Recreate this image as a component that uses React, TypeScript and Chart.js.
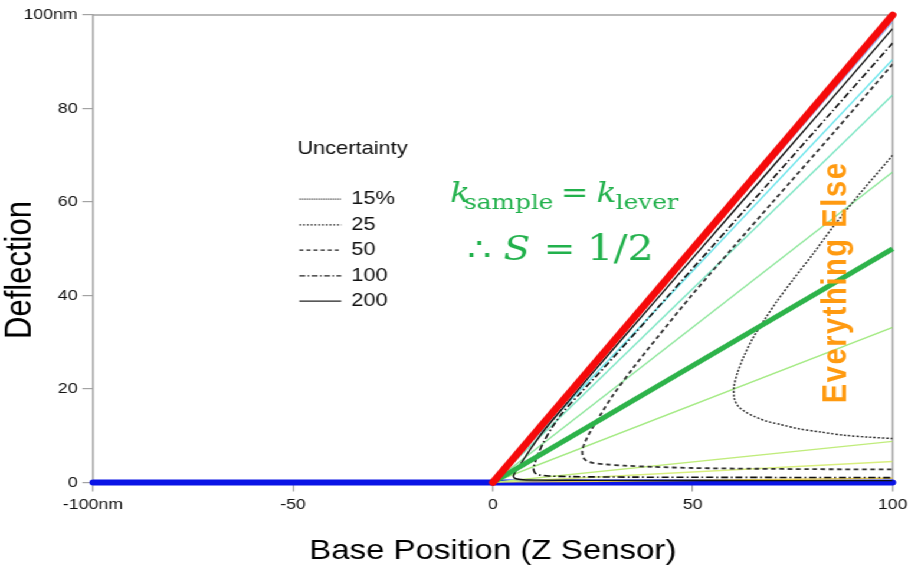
import { useEffect, useRef } from "react";
import { Chart, registerables } from "chart.js";

Chart.register(...registerables);

// ---------- data ----------
const xTickValues = [-100, -50, 0, 50, 100];
const xTickLabels = ["-100nm", "-50", "0", "50", "100"];
const yTickValues = [0, 20, 40, 60, 80, 100];
const yTickLabels = ["0", "20", "40", "60", "80", "100nm"];

// Rigid sample (S = 1) and free cantilever (S = 0)
const rigidLine: [number, number][] = [[0, 0], [100, 100]];
const zeroLine: [number, number][] = [[-100, 0], [100, 0]];
// k_sample = k_lever (S = 1/2)
const halfLine: [number, number][] = [[0, 0], [100, 50]];

// thin constant-sensitivity lines: deflection reached at base position 100
const thinLineEnds = [98.6, 90.5, 82.9, 66.4, 33.2, 8.8, 4.5, 0.9];
const thinLineColors = ["#8fb3f4", "#6fe6ec", "#7ee6c4", "#8fe79c", "#a3ea82", "#c0ec7c", "#d9ef7f", "#e6cc52"];

// uncertainty contours (base position, deflection)
const curve200: [number, number][] = [
  [100, 97.1], [80, 77.4], [60, 57.8], [40, 38.2], [25, 23.5], [17, 15.4], [12.5, 10.8], [9.8, 7.6],
  [7.6, 4.8], [6.3, 3.1], [5.4, 1.9], [5.2, 1.2], [5.8, 0.8], [7.5, 0.6], [12, 0.5], [25, 0.45], [50, 0.42], [100, 0.4],
];
const curve100: [number, number][] = [
  [100, 94], [85, 79.5], [70, 65], [55, 50.6], [40, 36.2], [30, 26.6], [22, 19.2], [17.5, 15], [15, 12],
  [13, 9.1], [11.6, 6.6], [10.6, 4.4], [10.2, 3], [10.5, 2.1], [11.5, 1.65], [14, 1.4], [20, 1.25], [35, 1.15],
  [60, 1.1], [100, 1.05],
];
const curve50: [number, number][] = [
  [100, 89.5], [85, 74.6], [70, 60], [60, 50.2], [50, 40.3], [41.4, 31.3], [35, 24.4], [30, 18.6], [27, 14.6],
  [24.6, 11.2], [23.1, 8.7], [22.4, 6.9], [22.6, 5.4], [23.5, 4.6], [25, 4.2], [28, 3.9], [33, 3.6], [40, 3.35],
  [50, 3.1], [65, 2.95], [80, 2.85], [100, 2.8],
];
const curve25: [number, number][] = [
  [100, 70], [92, 62], [85, 54.6], [80, 48.8], [75, 43.3], [71, 38.7], [68, 34.9], [65, 30.8], [62.8, 27],
  [61.2, 23.5], [60.3, 20.4], [60.4, 18], [61.3, 16.4], [63, 15.2], [65.5, 14.1], [68.5, 13.1], [72, 12.4],
  [76.5, 11.5], [82, 10.8], [88, 10.1], [94, 9.7], [100, 9.4],
];

const legendTitle = "Uncertainty";
const legendLabels = ["15%", "25", "50", "100", "200"];
const legendDashes: number[][] = [[1, 1], [1.6, 1.6], [3.5, 2.5], [5, 2, 1.5, 2], []];
const legendRowY = [60.6, 55.1, 49.7, 44.2, 38.8];

// ---------- styling ----------
const STRETCH = 1.18;
const CANVAS_W = 773;
const CANVAS_H = 570;
const AXIS_COLOR = "#a3a3a3";
const SANS = "'Liberation Sans', Arial, Helvetica, sans-serif";
const SERIF = "'DejaVu Serif', serif";
const GREEN_TEXT = "#22b14c";
const ORANGE = "#ff9a10";

const pts = (arr: [number, number][]) => arr.map(([x, y]) => ({ x, y }));

const overlay = {
  id: "overlay",
  beforeDatasetsDraw(chart: any) {
    const { ctx, chartArea: a } = chart;
    ctx.save();
    ctx.strokeStyle = AXIS_COLOR;
    ctx.lineWidth = 1.5;
    ctx.beginPath();
    ctx.moveTo(a.left, a.top);
    ctx.lineTo(a.right, a.top);
    ctx.lineTo(a.right, a.bottom);
    ctx.stroke();
    ctx.restore();
  },
  afterDraw(chart: any) {
    const { ctx, chartArea: a } = chart;
    const xs = chart.scales.x;
    const ys = chart.scales.y;
    const px = (v: number) => xs.getPixelForValue(v);
    const py = (v: number) => ys.getPixelForValue(v);
    ctx.save();

    // axis titles
    ctx.fillStyle = "#000";
    ctx.font = `28px ${SANS}`;
    ctx.textAlign = "center";
    ctx.textBaseline = "middle";
    ctx.fillText("Base Position (Z Sensor)", (a.left + a.right) / 2, 551);
    ctx.save();
    ctx.translate(17.8, 270);
    ctx.rotate(-Math.PI / 2);
    ctx.font = `31px ${SANS}`;
    ctx.fillText("Deflection", 0, 0);
    ctx.restore();

    // uncertainty legend
    ctx.textAlign = "left";
    ctx.fillStyle = "#111";
    ctx.font = `18.5px ${SANS}`;
    ctx.fillText(legendTitle, px(-48.9), py(71.3));
    legendLabels.forEach((lab, i) => {
      const y = py(legendRowY[i]);
      ctx.strokeStyle = "#222";
      ctx.lineWidth = 1.2;
      ctx.setLineDash(legendDashes[i]);
      ctx.beginPath();
      ctx.moveTo(px(-48.4), y);
      ctx.lineTo(px(-37.9), y);
      ctx.stroke();
      ctx.setLineDash([]);
      ctx.fillText(lab, px(-35.4), y);
    });

    // k_sample = k_lever
    ctx.fillStyle = GREEN_TEXT;
    ctx.textBaseline = "alphabetic";
    ctx.font = `italic 28px ${SERIF}`;
    ctx.fillText("k", px(-10.7), py(59.9));
    ctx.fillText("k", px(25.9), py(59.9));
    ctx.font = `21px ${SERIF}`;
    ctx.fillText("sample", px(-7.2), py(58.5));
    ctx.fillText("lever", px(30.7), py(58.5));
    ctx.font = `28px ${SERIF}`;
    ctx.fillText("=", px(17.0), py(59.9));

    // ∴ S = 1/2
    ctx.font = `32px ${SERIF}`;
    ctx.fillText("\u2234", px(-6.5), py(47.6));
    ctx.fillText("=", px(12.7), py(47.6));
    ctx.font = `35px ${SERIF}`;
    ctx.fillText("1/2", px(23.6), py(47.6));
    ctx.font = `italic 33px ${SERIF}`;
    ctx.fillText("S", px(2.7), py(47.6));

    // Everything Else
    ctx.save();
    ctx.translate(px(86.0), py(42.8));
    ctx.rotate(-Math.PI / 2);
    ctx.fillStyle = ORANGE;
    ctx.font = `bold 29px ${SANS}`;
    (ctx as any).letterSpacing = "1.6px";
    ctx.textAlign = "center";
    ctx.textBaseline = "middle";
    ctx.fillText("Everything Else", 0, 0);
    ctx.restore();

    ctx.restore();
  },
};

export default function App() {
  const canvasRef = useRef<HTMLCanvasElement | null>(null);

  useEffect(() => {
    const canvas = canvasRef.current;
    if (!canvas) return;

    const thinSets = thinLineEnds.map((end, i) => ({
      data: [{ x: 0, y: 0 }, { x: 100, y: end }],
      borderColor: thinLineColors[i],
      borderWidth: 1.4,
    }));

    const datasets: any[] = [
      { data: pts(rigidLine), borderColor: "#f50a0a", borderWidth: 6.5, borderCapStyle: "round", clip: false },
      { data: pts(halfLine), borderColor: "#2db34a", borderWidth: 5, clip: false },
      { data: pts(curve200), borderColor: "#111", borderWidth: 1.4, tension: 0.3 },
      { data: pts(curve100), borderColor: "#111", borderWidth: 1.6, borderDash: [6, 2.5, 1.5, 2.5], tension: 0.3 },
      { data: pts(curve50), borderColor: "#333", borderWidth: 1.8, borderDash: [4, 3], tension: 0.3 },
      { data: pts(curve25), borderColor: "#333", borderWidth: 1.5, borderDash: [2, 1.6], tension: 0.3 },
      ...thinSets,
      { data: pts(zeroLine), borderColor: "#0a14e6", borderWidth: 6, borderCapStyle: "round", clip: false },
    ].map((d) => ({ showLine: true, pointRadius: 0, pointHoverRadius: 0, fill: false, ...d }));

    const chart = new Chart(canvas, {
      type: "scatter",
      data: { datasets },
      options: {
        animation: false,
        responsive: false,
        events: [],
        layout: { padding: { left: 0, right: 14.5, top: 15, bottom: 0 } },
        plugins: { legend: { display: false }, tooltip: { enabled: false } },
        scales: {
          x: {
            type: "linear",
            min: -100,
            max: 100,
            afterBuildTicks: (s: any) => {
              s.ticks = xTickValues.map((v) => ({ value: v }));
            },
            afterFit: (s: any) => {
              s.height = 87.5;
            },
            ticks: {
              autoSkip: false,
              maxRotation: 0,
              padding: 4,
              color: "#111",
              font: { family: SANS, size: 15 },
              callback: (v: any) => xTickLabels[xTickValues.indexOf(Number(v))] ?? String(v),
            },
            grid: { drawOnChartArea: false, drawTicks: true, tickLength: 9, color: AXIS_COLOR, lineWidth: 1.2 },
            border: { display: true, color: AXIS_COLOR, width: 1.5 },
          },
          y: {
            type: "linear",
            min: 0,
            max: 100,
            afterBuildTicks: (s: any) => {
              s.ticks = yTickValues.map((v) => ({ value: v }));
            },
            afterFit: (s: any) => {
              s.width = 78.8;
            },
            ticks: {
              autoSkip: false,
              padding: 4,
              color: "#111",
              font: { family: SANS, size: 15 },
              callback: (v: any) => yTickLabels[yTickValues.indexOf(Number(v))] ?? String(v),
            },
            grid: { drawOnChartArea: false, drawTicks: true, tickLength: 9, color: AXIS_COLOR, lineWidth: 1.2 },
            border: { display: true, color: AXIS_COLOR, width: 1.5 },
          },
        },
      },
      plugins: [overlay],
    });

    return () => chart.destroy();
  }, []);

  return (
    <div
      style={{
        position: "absolute",
        left: 0,
        top: 0,
        width: CANVAS_W,
        height: CANVAS_H,
        transform: `scaleX(${STRETCH})`,
        transformOrigin: "0 0",
        background: "#fff",
      }}
    >
      <canvas ref={canvasRef} width={CANVAS_W} height={CANVAS_H} style={{ display: "block" }} />
    </div>
  );
}
